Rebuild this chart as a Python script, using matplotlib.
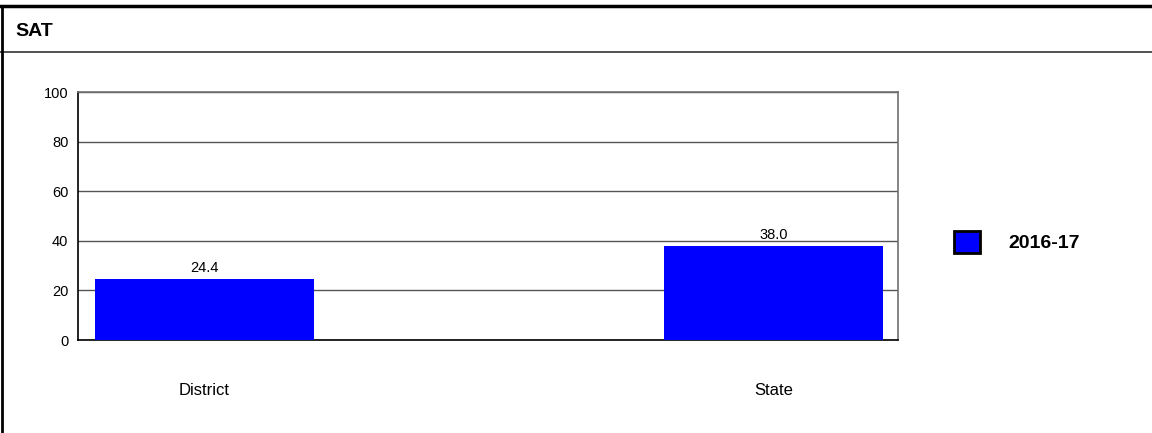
import matplotlib
matplotlib.use("Agg")
import matplotlib.pyplot as plt
from matplotlib.lines import Line2D
from matplotlib.patches import Patch

# dados do grafico
categories = ["District", "State"]
values = [24.4, 38.0]
series_name = "2016-17"
yticks = [0, 20, 40, 60, 80, 100]

plt.rcParams['font.family'] = ['Liberation Sans', 'DejaVu Sans']

fig = plt.figure(figsize=(11.52, 4.33), dpi=100)
ax = fig.add_axes([78 / 1152, 93 / 433, 820 / 1152, 248 / 433])

x = list(range(len(categories)))
bars = ax.bar(x, values, width=0.385, color="#0000ff", zorder=3)
ax.bar_label(bars, labels=[f"{v:.1f}" for v in values], padding=3, fontsize=10.5, zorder=4)

ax.set_xlim(-0.222, 1.219)
ax.set_ylim(0, 100)
ax.set_yticks(yticks)
ax.set_xticks(x)
ax.set_xticklabels(categories, fontsize=12)
ax.tick_params(axis="x", length=0, pad=31)
ax.tick_params(axis="y", length=0, pad=7, labelsize=10.5)
ax.yaxis.grid(True, color="#555555", linewidth=1)
ax.set_axisbelow(True)
for side in ["left", "bottom"]:
    ax.spines[side].set_color("black")
    ax.spines[side].set_linewidth(1.2)
for side in ["top", "right"]:
    ax.spines[side].set_color("#707070")
    ax.spines[side].set_linewidth(1.2)

# legenda
handle = Patch(facecolor="#0000ff", edgecolor="black", linewidth=2)
fig.legend([handle], [series_name], loc="center left",
           bbox_to_anchor=(936 / 1152, 1 - 242 / 433), frameon=False,
           prop={"weight": "bold", "size": 14},
           handlelength=1.34, handleheight=1.34, handletextpad=1.5)

# caixa do titulo
fig.add_artist(Line2D([0, 1], [1 - 6 / 433, 1 - 6 / 433], color="black", linewidth=2.5))
fig.add_artist(Line2D([0, 1], [1 - 52 / 433, 1 - 52 / 433], color="#333333", linewidth=1.2))
fig.add_artist(Line2D([1.5 / 1152, 1.5 / 1152], [0, 1 - 6 / 433], color="black", linewidth=2))
fig.text(15 / 1152, 1 - 31 / 433, "SAT", fontsize=14, fontweight="bold", va="center", ha="left")

fig.savefig("out.png", dpi=100)
